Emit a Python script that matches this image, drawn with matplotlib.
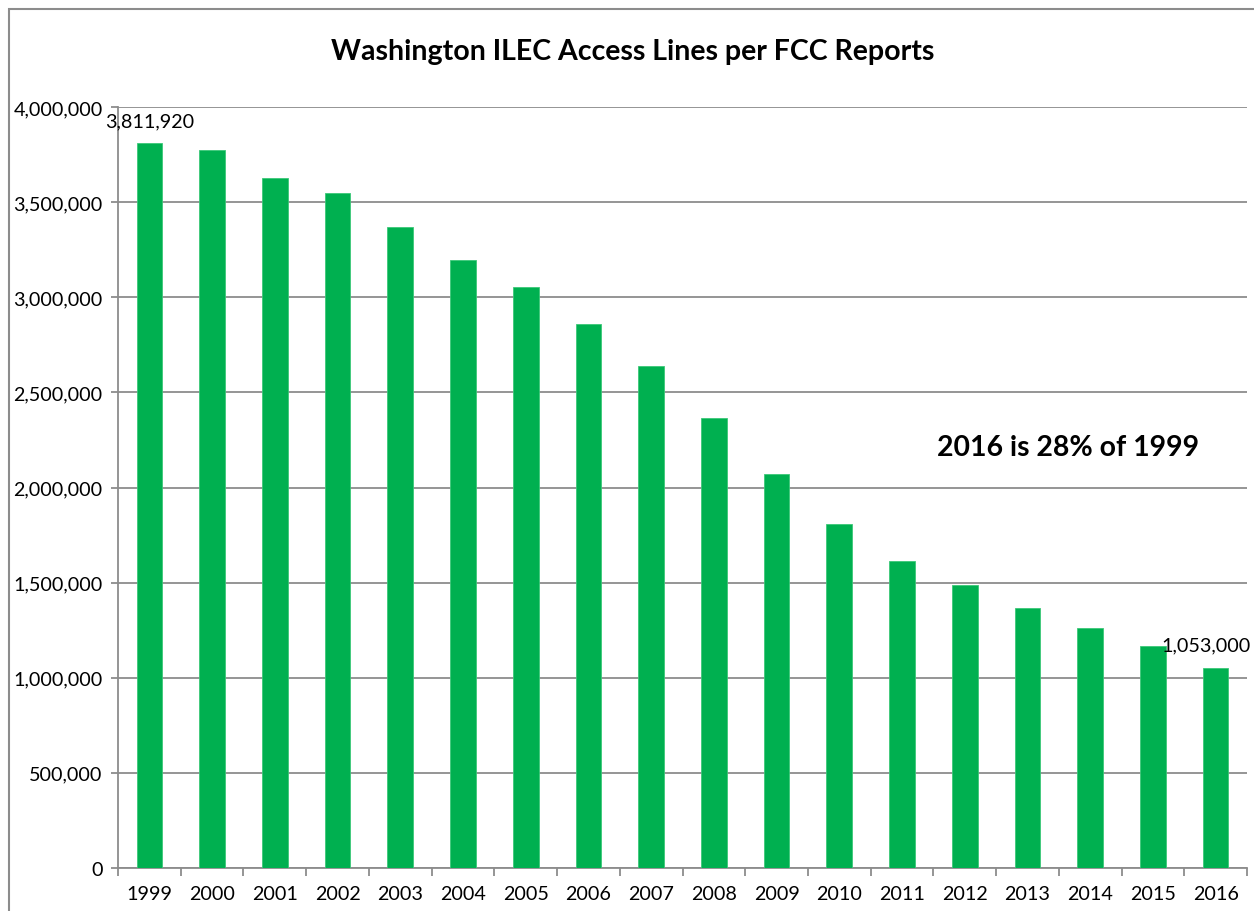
import matplotlib
matplotlib.use("Agg")
import matplotlib.pyplot as plt
from matplotlib.patches import Rectangle
from matplotlib.ticker import FuncFormatter, FixedLocator
import numpy as np

years = ["1999", "2000", "2001", "2002", "2003", "2004", "2005", "2006", "2007",
         "2008", "2009", "2010", "2011", "2012", "2013", "2014", "2015", "2016"]
lines = [3811920, 3775000, 3628000, 3548000, 3370000, 3197000, 3056000, 2860000, 2640000,
         2366000, 2072000, 1810000, 1615000, 1490000, 1367000, 1262000, 1168000, 1053000]
labels_shown = {0: "3,811,920", 17: "1,053,000"}
title = "Washington ILEC Access Lines per FCC Reports"
note = "2016 is 28% of 1999"

plt.rcParams['font.family'] = ['Lato', 'DejaVu Sans']

fig = plt.figure(figsize=(12.54, 9.12), dpi=100)
ax = fig.add_axes([118/1254, 43/912, (1247-118)/1254, (869-108)/912])

x = np.arange(len(years))
ax.bar(x, lines, width=0.41, color="#00B050", edgecolor="#3CC878", linewidth=0.6, zorder=3)

ax.set_xlim(-0.5, len(years) - 0.5)
ax.set_ylim(0, 4000000)
ax.set_yticks(np.arange(0, 4000001, 500000))
ax.yaxis.set_major_formatter(FuncFormatter(lambda v, p: f"{int(v):,}"))
ax.grid(axis="y", color="#8c8c8c", linewidth=1.3, zorder=0)
ax.set_axisbelow(True)

fs = 14.2
ax.set_xticks(x)
ax.set_xticklabels(years)
ax.xaxis.set_minor_locator(FixedLocator(np.arange(-0.5, len(years), 1.0)))
ax.tick_params(axis="x", which="major", length=0, pad=12, labelsize=fs, colors="black")
ax.tick_params(axis="x", which="minor", length=6, width=1.3, color="#8c8c8c", direction="out")
ax.tick_params(axis="y", length=5, width=1.3, color="#8c8c8c", labelsize=fs, pad=6, labelcolor="black")

for s in ["top", "right"]:
    ax.spines[s].set_visible(False)
for s in ["left", "bottom"]:
    ax.spines[s].set_color("#8c8c8c")
    ax.spines[s].set_linewidth(1.3)

for i, t in labels_shown.items():
    ax.annotate(t, (x[i], lines[i]), xytext=(-7 if i == len(years) - 1 else 0, 10),
                textcoords="offset points", ha="center", va="bottom", fontsize=fs,
                annotation_clip=False)

fig.text(633/1254, 1 - 52/912, title, ha="center", va="center", fontsize=20.5, fontweight="bold")
fig.text(1068/1254, 1 - 448/912, note, ha="center", va="center", fontsize=20.4, fontweight="bold")

fig.patches.append(Rectangle((9/1254, -0.05), 1.2, 1 - 10/912 + 0.05, transform=fig.transFigure,
                             fill=False, edgecolor="#8c8c8c", linewidth=1.5))

fig.savefig("out.png", dpi=100)
